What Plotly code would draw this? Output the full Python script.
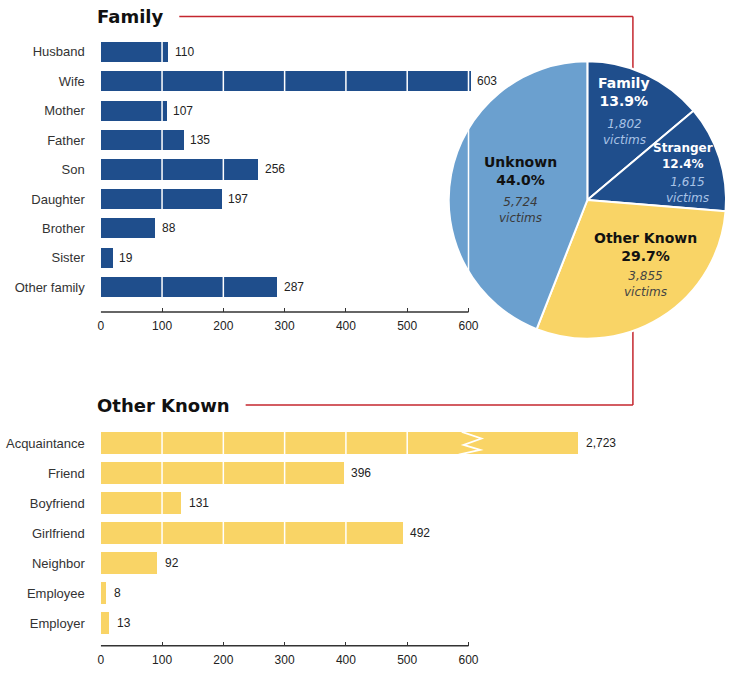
import plotly.graph_objects as go

# ---------------- data ----------------
family_cats = ["Husband", "Wife", "Mother", "Father", "Son", "Daughter",
               "Brother", "Sister", "Other family"]
family_vals = [110, 603, 107, 135, 256, 197, 88, 19, 287]

other_cats = ["Acquaintance", "Friend", "Boyfriend", "Girlfriend",
              "Neighbor", "Employee", "Employer"]
other_vals = [2723, 396, 131, 492, 92, 8, 13]

pie_labels = ["Family", "Stranger", "Other Known", "Unknown"]
pie_victims = [1802, 1615, 3855, 5724]

x_ticks = [0, 100, 200, 300, 400, 500, 600]

# ---------------- style / layout constants ----------------
W, H = 731, 683
DARK = "#1f4e8c"
YELLOW = "#f9d466"
LIGHT = "#6ba0cf"
RED = "#c4262e"
INK = "#222222"
AXIS_FONT = "Liberation Sans, Arial, sans-serif"
HEAD_FONT = "DejaVu Sans, Verdana, sans-serif"

X0_PX = 98.7                      # pixel of value 0
K = (470 - 98.7) / 600            # pixels per unit
TOP_XMAX = 610
BOT_XMAX = 790
AXIS_MAX = 600
BROKEN_END = 778                  # drawn length of the broken (off-scale) bar
PIE_BOX = (450, 60, 730, 340)     # left, top, right, bottom in px


def px(x):
    return x / W


def py(y):
    return 1 - y / H


fig = go.Figure()

# ---------------- bars ----------------
fam_idx = list(range(len(family_cats)))
oth_idx = list(range(len(other_cats)))
oth_display = [min(v, BROKEN_END) if v > AXIS_MAX else v for v in other_vals]

fig.add_trace(go.Bar(x=family_vals, y=fam_idx, orientation="h", width=0.68,
                     marker=dict(color=DARK, line=dict(width=0)),
                     xaxis="x", yaxis="y", hoverinfo="skip", showlegend=False))
fig.add_trace(go.Bar(x=oth_display, y=oth_idx, orientation="h", width=0.76,
                     marker=dict(color=YELLOW, line=dict(width=0)),
                     xaxis="x2", yaxis="y2", hoverinfo="skip", showlegend=False))

# ---------------- pie ----------------
pl, pt, pr, pb = PIE_BOX
fig.add_trace(go.Pie(labels=pie_labels, values=pie_victims, sort=False,
                     direction="clockwise", rotation=0,
                     marker=dict(colors=[DARK, DARK, YELLOW, LIGHT],
                                 line=dict(color="white", width=2)),
                     textinfo="none", hoverinfo="skip", showlegend=False,
                     domain=dict(x=[px(pl), px(pr)], y=[py(pb), py(pt)])))

annotations = []
shapes = []

# value labels
for i, v in enumerate(family_vals):
    annotations.append(dict(x=v, y=i, xref="x", yref="y", text=f"{v:,}",
                            xanchor="left", yanchor="middle", xshift=5,
                            showarrow=False,
                            font=dict(family=AXIS_FONT, size=12, color=INK)))
for i, (v, d) in enumerate(zip(other_vals, oth_display)):
    annotations.append(dict(x=d, y=i, xref="x2", yref="y2", text=f"{v:,}",
                            xanchor="left", yanchor="middle", xshift=6,
                            showarrow=False,
                            font=dict(family=AXIS_FONT, size=12, color=INK)))

# white grid lines drawn over bars
for t in x_ticks[1:]:
    shapes.append(dict(type="line", xref="x", yref="y", x0=t, x1=t,
                       y0=-0.5, y1=len(family_cats) - 0.5, layer="above",
                       line=dict(color="white", width=1.5)))
for t in x_ticks[1:-1]:
    shapes.append(dict(type="line", xref="x2", yref="y2", x0=t, x1=t,
                       y0=-0.5, y1=len(other_cats) - 0.5, layer="above",
                       line=dict(color="white", width=1.5)))

# break mark on the off-scale bar
for i, v in enumerate(other_vals):
    if v > AXIS_MAX:
        hw = 0.76 / 2
        pts = [(589, 0.0), (621, 0.29), (592, 0.57), (619, 0.79), (584, 1.0)]
        path = "M " + " L ".join(f"{x},{i - hw + f * 2 * hw}" for x, f in pts)
        shapes.append(dict(type="path", xref="x2", yref="y2", path=path,
                           layer="above", line=dict(color="white", width=1.8)))

# axis base lines (0 to 600)
for xr, yr in (("x", "y domain"), ("x2", "y2 domain")):
    shapes.append(dict(type="line", xref=xr, yref=yr, x0=0, x1=AXIS_MAX,
                       y0=0, y1=0, layer="above",
                       line=dict(color="#333333", width=1.5)))

# red connector lines (run under the pie)
for (x0, y0, x1, y1) in [(178, 16.5, 636, 16.5), (636, 16.5, 636, 120),
                         (245, 405, 636, 405), (636, 405, 636, 300)]:
    shapes.append(dict(type="line", xref="paper", yref="paper",
                       x0=px(x0), y0=py(y0), x1=px(x1), y1=py(y1),
                       layer="below", line=dict(color=RED, width=1.5)))

# section titles
annotations.append(dict(x=px(93), y=py(16), xref="paper", yref="paper",
                        text="<b>Family</b>", xanchor="left", yanchor="middle",
                        showarrow=False,
                        font=dict(family=HEAD_FONT, size=18, color="#111111")))
annotations.append(dict(x=px(93), y=py(405), xref="paper", yref="paper",
                        text="<b>Other Known</b>", xanchor="left",
                        yanchor="middle", showarrow=False,
                        font=dict(family=HEAD_FONT, size=18, color="#111111")))

# pie labels
cx, cy = (pl + pr) / 2, (pt + pb) / 2
total = sum(pie_victims)
label_offsets = {  # (bold block dx, dy), (italic block dx, dy) from pie centre, px
    "Family": ((37, -107.5), (38, -68)),
    "Stranger": ((97, -44), (101, -10.5)),
    "Other Known": ((59, 47), (59, 84)),
    "Unknown": ((-68, -28.5), (-68, 10)),
}
bold_sizes = {"Family": 14, "Stranger": 12, "Other Known": 14, "Unknown": 14}
bold_colors = {"Family": "white", "Stranger": "white",
               "Other Known": "#111111", "Unknown": "#111111"}
ital_colors = {"Family": "#a9c3e6", "Stranger": "#a9c3e6",
               "Other Known": "#444444", "Unknown": "#3a3a3a"}
for lab, v in zip(pie_labels, pie_victims):
    pct = 100 * v / total
    (bdx, bdy), (idx, idy) = label_offsets[lab]
    annotations.append(dict(x=px(cx + bdx), y=py(cy + bdy), xref="paper",
                            yref="paper", showarrow=False,
                            text=f"<b>{lab}<br>{pct:.1f}%</b>",
                            xanchor="center", yanchor="middle", align="center",
                            font=dict(family=HEAD_FONT, size=bold_sizes[lab],
                                      color=bold_colors[lab])))
    annotations.append(dict(x=px(cx + idx), y=py(cy + idy), xref="paper",
                            yref="paper", showarrow=False,
                            text=f"<i>{v:,}<br>victims</i>",
                            xanchor="center", yanchor="middle", align="center",
                            font=dict(family=HEAD_FONT, size=12,
                                      color=ital_colors[lab])))

common_x = dict(showgrid=False, zeroline=False, showline=False,
                ticks="inside", ticklen=4, tickwidth=1, tickcolor="#333333",
                tickvals=x_ticks, ticklabelstandoff=5,
                tickfont=dict(family=AXIS_FONT, size=12, color=INK),
                fixedrange=True)
common_y = dict(showgrid=False, zeroline=False, showline=False, ticks="",
                ticklabelstandoff=15,
                tickfont=dict(family=AXIS_FONT, size=13, color="#333333"),
                fixedrange=True)

fig.update_layout(
    width=W, height=H, autosize=False,
    margin=dict(l=0, r=0, t=0, b=0),
    paper_bgcolor="white", plot_bgcolor="white",
    xaxis=dict(domain=[px(X0_PX), px(X0_PX + TOP_XMAX * K)],
               range=[0, TOP_XMAX], anchor="y", **common_x),
    yaxis=dict(domain=[py(312), py(37)], range=[8.84, -0.5], anchor="x",
               tickvals=fam_idx, ticktext=family_cats, **common_y),
    xaxis2=dict(domain=[px(X0_PX), px(X0_PX + BOT_XMAX * K)],
                range=[0, BOT_XMAX], anchor="y2", **common_x),
    yaxis2=dict(domain=[py(645.8), py(428.3)], range=[6.75, -0.5],
                anchor="x2", tickvals=oth_idx, ticktext=other_cats,
                **common_y),
    shapes=shapes,
    annotations=annotations,
    bargap=0,
)

fig.write_html("out.html",
               config={"displayModeBar": False},
               post_script="document.body.style.margin='0';"
                           "document.body.style.overflow='hidden';")
